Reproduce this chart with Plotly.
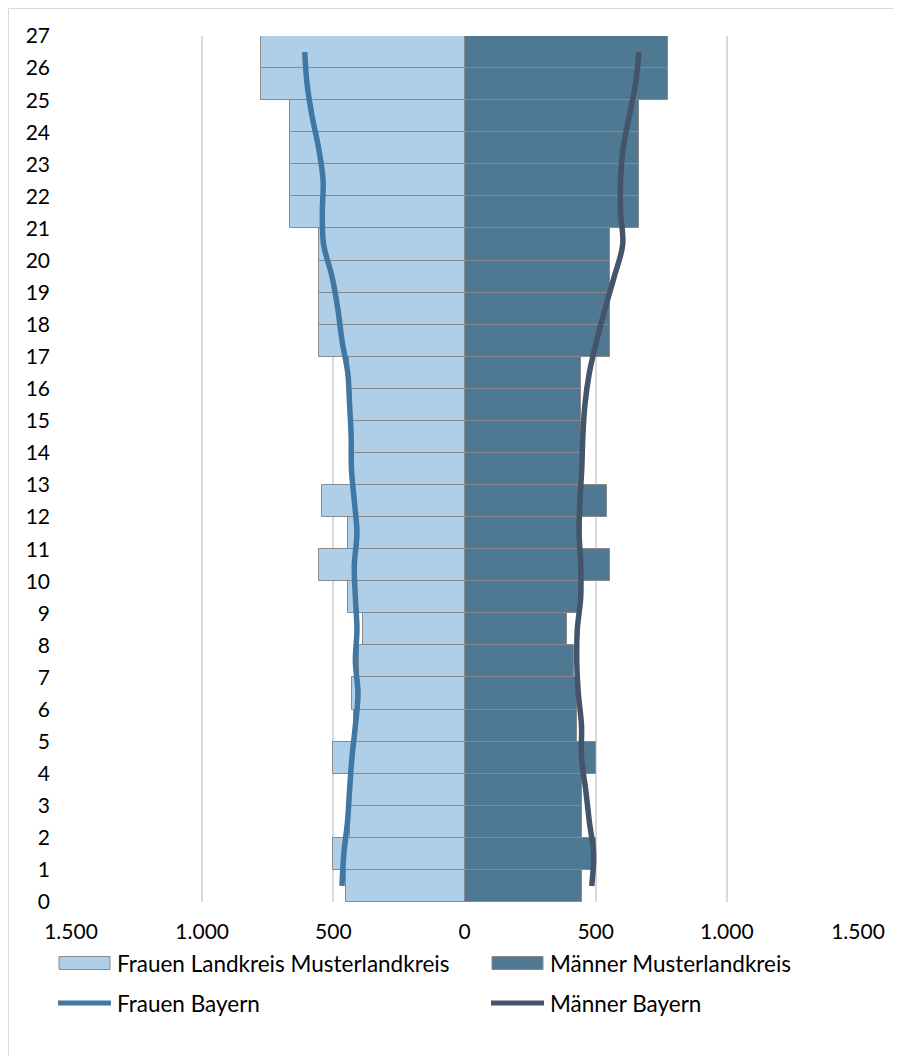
import plotly.graph_objects as go

# ---- data ----
ages = list(range(27))
frauen_lk = [450, 501, 437, 441, 501, 420, 429, 401, 388, 444, 554, 444, 544, 430, 430, 435, 440,
             554, 554, 554, 554, 666, 666, 666, 666, 777, 777]
maenner_lk = [449, 500, 449, 449, 500, 429, 427, 419, 390, 442, 555, 440, 544, 443, 443, 443, 443,
              555, 555, 555, 555, 666, 666, 666, 666, 777, 777]
frauen_by = [467, 460, 446, 438, 429, 416, 406, 416, 410, 416, 420, 410, 420, 431, 432, 438, 445,
             467, 483, 505, 537, 542, 539, 556, 581, 600, 609]
maenner_by = [485, 492, 476, 462, 446, 446, 434, 428, 430, 443, 443, 437, 440, 447, 451, 459, 476,
              504, 536, 571, 603, 595, 595, 605, 628, 652, 665]
x_tickvals = [-1500, -1000, -500, 0, 500, 1000, 1500]
x_ticktext = ["1.500", "1.000", "500", "0", "500", "1.000", "1.500"]
y_tickvals = list(range(28))
series_names = ["Frauen Landkreis Musterlandkreis", "Männer Musterlandkreis",
                "Frauen Bayern", "Männer Bayern"]

# ---- styles ----
C_F_BAR = "#AFCFE8"
C_M_BAR = "#4F7892"
C_F_LINE = "#4077A3"
C_M_LINE = "#44546A"
C_EDGE = "#8A8A8A"
FONT = "Lato"
OFF = 8  # default page body margin
W, H = 901 - OFF, 1056 - OFF
L, R, T, B = 63, 43, 28, 154

mid = [a + 0.5 for a in ages]

fig = go.Figure()
fig.add_trace(go.Bar(y=mid, x=[-v for v in frauen_lk], base=0, orientation="h", width=1,
                     marker=dict(color=C_F_BAR, line=dict(color=C_EDGE, width=1)),
                     name=series_names[0]))
fig.add_trace(go.Bar(y=mid, x=maenner_lk, base=0, orientation="h", width=1,
                     marker=dict(color=C_M_BAR, line=dict(color=C_EDGE, width=1)),
                     name=series_names[1]))
fig.add_trace(go.Scatter(y=mid, x=[-v for v in frauen_by], mode="lines",
                         line=dict(color=C_F_LINE, width=5.5, shape="spline", smoothing=1),
                         name=series_names[2]))
fig.add_trace(go.Scatter(y=mid, x=maenner_by, mode="lines",
                         line=dict(color=C_M_LINE, width=5.5, shape="spline", smoothing=1),
                         name=series_names[3]))

pw, ph = W - L - R, H - T - B


def px(xp):
    return (xp - OFF - L) / pw


def py(yp):
    return (H - B - (yp - OFF)) / ph


shapes = [
    # chart border
    dict(type="rect", xref="paper", yref="paper", x0=px(OFF + 0.5), x1=px(W + 20), y0=py(H + 30),
         y1=py(OFF + 0.5), line=dict(color="#D9D9D9", width=1), fillcolor="rgba(0,0,0,0)",
         layer="below"),
]
annotations = []

legend_rows = [(963, 0, 1), (1003, 2, 3)]
col_x = [(59, 110, 115), (492, 543, 548)]
styles = {0: ("bar", C_F_BAR), 1: ("bar", C_M_BAR), 2: ("line", C_F_LINE), 3: ("line", C_M_LINE)}
for yc, a, b in legend_rows:
    for ci, idx in enumerate((a, b)):
        x0, x1, xt = col_x[ci]
        kind, col = styles[idx]
        if kind == "bar":
            shapes.append(dict(type="rect", xref="paper", yref="paper", x0=px(x0), x1=px(x1),
                               y0=py(yc + 6.5), y1=py(yc - 6.5), fillcolor=col,
                               line=dict(color=C_EDGE, width=1)))
        else:
            shapes.append(dict(type="line", xref="paper", yref="paper", x0=px(x0 - 1), x1=px(x1 + 1),
                               y0=py(yc), y1=py(yc), line=dict(color=col, width=5)))
        annotations.append(dict(xref="paper", yref="paper", x=px(xt), y=py(yc), xanchor="left",
                                yanchor="middle", text=series_names[idx], showarrow=False,
                                font=dict(family=FONT, size=22.5, color="#000000")))

fig.update_layout(
    width=W, height=H,
    margin=dict(l=L, r=R, t=T, b=B),
    paper_bgcolor="white", plot_bgcolor="white",
    barmode="overlay", bargap=0,
    showlegend=False,
    font=dict(family=FONT, size=21, color="#000000"),
    shapes=shapes, annotations=annotations,
    xaxis=dict(range=[-1500, 1500], tickvals=x_tickvals, ticktext=x_ticktext,
               showgrid=True, gridcolor="#D9D9D9", gridwidth=1.5, zeroline=False,
               showline=False, ticks="", ticklabelstandoff=15, fixedrange=True),
    yaxis=dict(range=[0, 27], tickvals=y_tickvals, showgrid=False, zeroline=False,
               showline=False, ticks="", ticklabelstandoff=20, fixedrange=True),
)

fig.write_html("out.html")
